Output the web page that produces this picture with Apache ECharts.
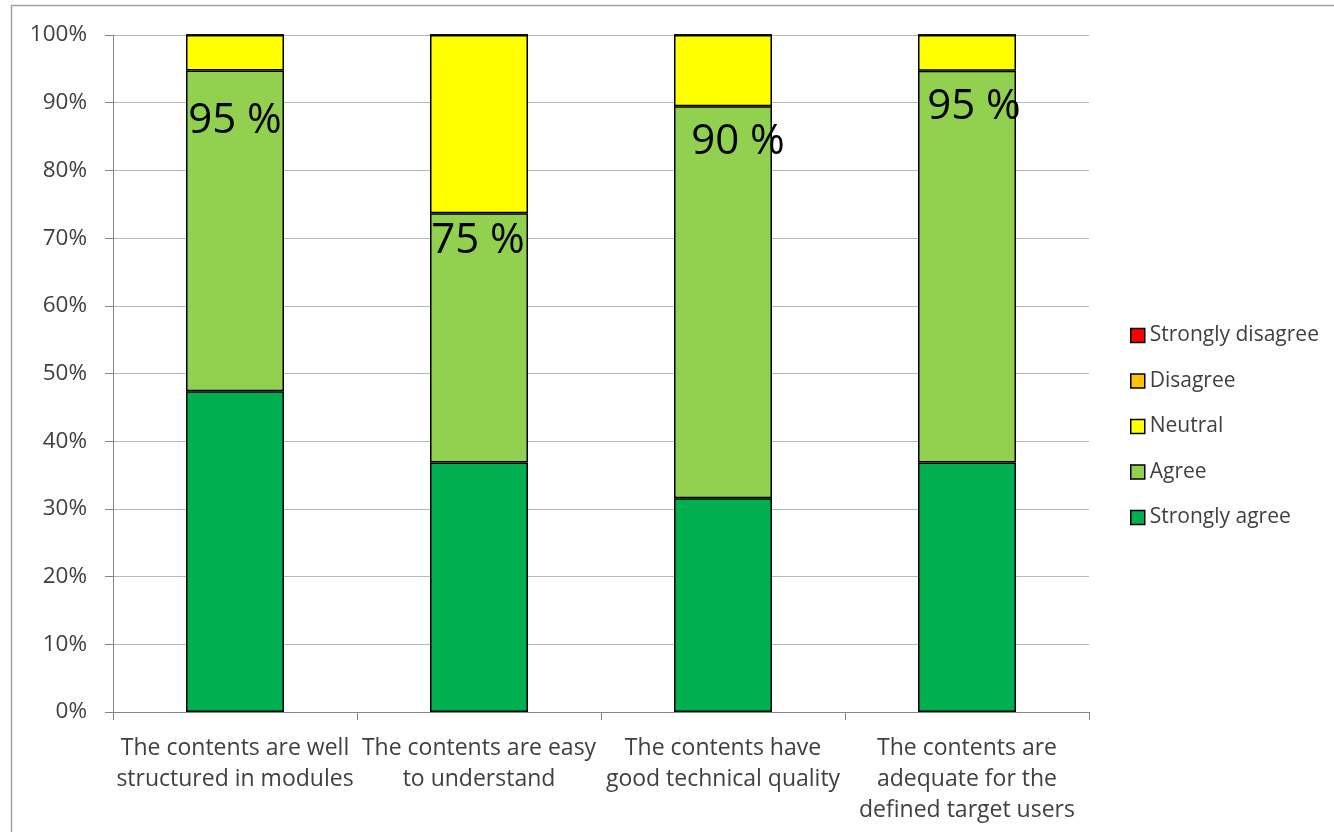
<!DOCTYPE html>
<html>
<head>
<meta charset="utf-8">
<script src="https://cdn.jsdelivr.net/npm/echarts@6/dist/echarts.min.js"></script>
<style>html,body{margin:0;padding:0;background:#fff}#c{width:1334px;height:832px}</style>
</head>
<body>
<div id="c"></div>
<script>
const categories = [
  'The contents are well\nstructured in modules',
  'The contents are easy\nto understand',
  'The contents have\ngood technical quality',
  'The contents are\nadequate for the\ndefined target users'
];
const stronglyAgree = [47.37, 36.84, 31.58, 36.84];
const agree = [47.37, 36.84, 57.89, 57.89];
const neutral = [5.26, 26.32, 10.53, 5.27];
const disagree = [0, 0, 0, 0];
const stronglyDisagree = [0, 0, 0, 0];
const totalLabels = ['95 %', '75 %', '90 %', '95 %'];
const yTicks = [0, 10, 20, 30, 40, 50, 60, 70, 80, 90, 100];

// label placement styling (pixels), separate from data
const labelOffsets = [[0, 29], [-1, 7], [15, 15], [7, 15]];

const FONT = 'Open Sans';
const TXT = '#404040';
const border = { borderColor: '#000', borderWidth: 1.5 };

function barSeries(name, data, color, extra) {
  return Object.assign({
    name, type: 'bar', stack: 'total', data, barWidth: 98,
    itemStyle: Object.assign({ color }, border)
  }, extra || {});
}

const chart = echarts.init(document.getElementById('c'), null, { renderer: 'canvas' });
chart.setOption({
  animation: false,
  graphic: [{
    type: 'rect', shape: { x: 11.5, y: 5.5, width: 1340, height: 840 },
    style: { fill: 'none', stroke: '#a0a0a0', lineWidth: 1.5 }, silent: true
  }],
  grid: { left: 113, right: 245, top: 35, bottom: 120 },
  legend: {
    orient: 'vertical', left: 1130, top: 325, padding: 0, itemWidth: 14, itemHeight: 14, itemGap: 24.5,
    icon: 'rect',
    data: ['Strongly disagree', 'Disagree', 'Neutral', 'Agree', 'Strongly agree'],
    textStyle: { fontFamily: FONT, fontSize: 21, color: TXT, lineHeight: 21 },
    itemStyle: { borderColor: '#000', borderWidth: 1.5 }
  },
  xAxis: {
    type: 'category', data: categories,
    axisLine: { lineStyle: { color: '#868686', width: 1 } },
    axisTick: { show: true, length: 8, lineStyle: { color: '#868686' } },
    axisLabel: { fontFamily: FONT, fontSize: 23, color: TXT, lineHeight: 31, margin: 21, interval: 0 }
  },
  yAxis: {
    type: 'value', min: 0, max: 100, interval: 10,
    axisLine: { show: true, lineStyle: { color: '#868686', width: 1 } },
    axisTick: { show: true, length: 8, lineStyle: { color: '#868686' } },
    splitLine: { lineStyle: { color: '#b8b8b8', width: 1 } },
    axisLabel: {
      fontFamily: FONT, fontSize: 22.5, color: TXT, margin: 26,
      formatter: v => yTicks.includes(v) ? v + '%' : ''
    }
  },
  series: [
    barSeries('Strongly agree', stronglyAgree, '#00B050'),
    barSeries('Agree', agree.map((v, i) => ({
      value: v,
      label: { offset: labelOffsets[i] }
    })), '#92D050', {
      label: {
        show: true, position: 'insideTop', distance: 0,
        fontFamily: FONT, fontSize: 42, color: '#000', lineHeight: 42,
        formatter: p => totalLabels[p.dataIndex]
      }
    }),
    barSeries('Neutral', neutral, '#FFFF00'),
    barSeries('Disagree', disagree, '#FFC000'),
    barSeries('Strongly disagree', stronglyDisagree, '#FF0000')
  ]
});
</script>
</body>
</html>
